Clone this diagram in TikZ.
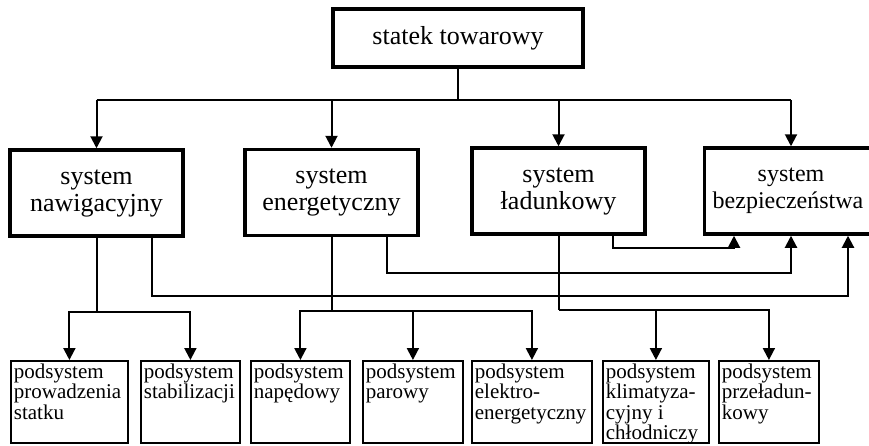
\documentclass[tikz,border=0pt]{standalone}
\usepackage{fontspec}
\setmainfont{Liberation Serif}
\usetikzlibrary{arrows.meta}
\newcommand{\subtext}[2]{\parbox[c][76pt][t]{#1}{\raggedright #2}}

\tikzset{
  mainbox/.style={draw, line width=3.5pt, minimum width=250pt, minimum height=58pt, font=\fontsize{26}{27}\selectfont},
  sysbox/.style={draw, line width=3.5pt, minimum width=173pt, minimum height=86pt, align=center, font=\fontsize{26}{27}\selectfont},
  subbox/.style={draw, line width=1.8pt, anchor=north west, inner sep=3pt, font=\fontsize{21}{20.5}\selectfont},
  link/.style={line width=2pt},
  arrlink/.style={line width=2pt, -{Triangle[length=12pt,width=12pt]}}
}

\begin{document}
\begin{tikzpicture}[x=1pt, y=-1pt]
    \clip[use as bounding box] (0,0) rectangle (869,445);

    \node[mainbox] (top) at (458,38) {statek towarowy};

    \node[sysbox] (nav) at (96.5,193) {system\\nawigacyjny};
    \node[sysbox] (ener) at (331.5,192.5) {system\\energetyczny};
    \node[sysbox] (lad) at (558.5,191) {system\\ładunkowy};
    \node[sysbox, font=\fontsize{24}{27}\selectfont] (bez) at (791,191) {system\\bezpieczeństwa\hspace*{6pt}};

    \node[subbox] (prow) at (10,360) {\subtext{111pt}{podsystem\\prowadzenia\\statku}};
    \node[subbox] (stab) at (140,360) {\subtext{93pt}{podsystem\\stabilizacji}};
    \node[subbox] (nap) at (250,360) {\subtext{93pt}{podsystem\\napędowy}};
    \node[subbox] (par) at (362,360) {\subtext{94pt}{podsystem\\parowy}};
    \node[subbox] (elek) at (471,360) {\subtext{114pt}{podsystem\\elektro-\\energetyczny}};
    \node[subbox] (klim) at (602,360) {\subtext{100pt}{podsystem\\klimatyza-\\cyjny i\\chłodniczy}};
    \node[subbox] (prze) at (718,360) {\subtext{94pt}{podsystem\\przeładun-\\kowy}};

    \coordinate (bus) at (458,100);
    \draw[link] (top.south) -- (bus);
    \draw[link] (nav.north |- bus) -- (bez.north |- bus);
    \foreach \s in {nav,ener,lad,bez}
        \draw[arrlink] (\s.north |- bus) -- (\s.north);

    \draw[link] (nav.south) -- ++(0,74) coordinate (navbr);
    \draw[arrlink] (navbr) -| (prow.north);
    \draw[arrlink] (navbr) -| (stab.north);

    \draw[link] (ener.south) -- ++(0,74) coordinate (enerbr);
    \draw[arrlink] (enerbr) -| (nap.north);
    \draw[arrlink] (enerbr) -| (par.north);
    \draw[arrlink] (enerbr) -| (elek.north);

    \draw[link] (lad.south) -- ++(0,74) coordinate (ladbr);
    \draw[arrlink] (ladbr) -| (klim.north);
    \draw[arrlink] (ladbr) -| (prze.north);

    \draw[arrlink] ([xshift=54pt]lad.south) -- ++(0,12) -| ([xshift=-57pt]bez.south);
    \draw[arrlink] ([xshift=55pt]ener.south) -- ++(0,36) -| (bez.south);
    \draw[arrlink] ([xshift=55pt]nav.south) -- ++(0,58) -| ([xshift=57pt]bez.south);
\end{tikzpicture}
\end{document}
